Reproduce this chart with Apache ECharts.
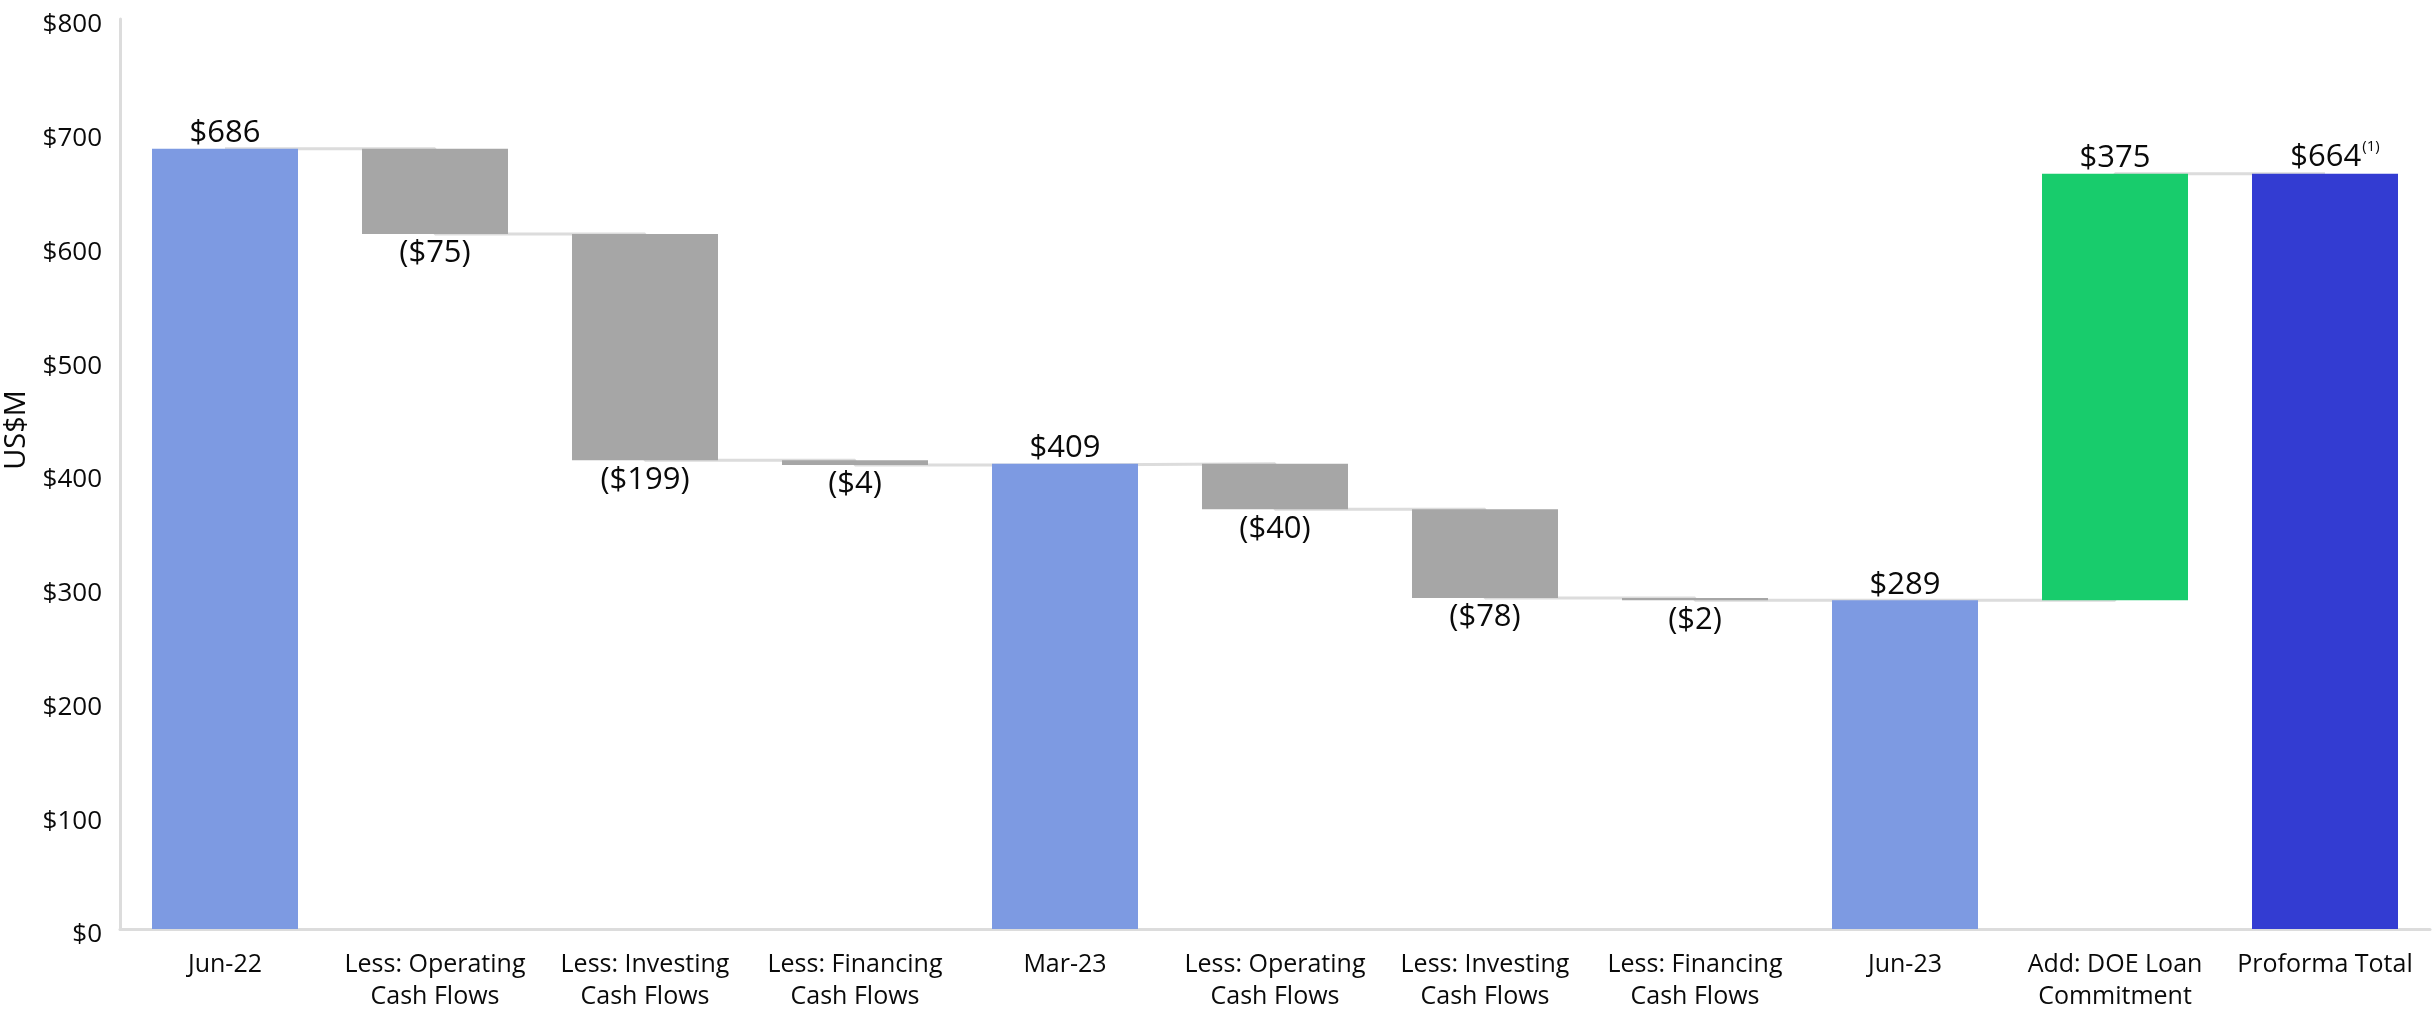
<!DOCTYPE html>
<html>
<head>
<meta charset="utf-8">
<script src="https://cdn.jsdelivr.net/npm/echarts@6/dist/echarts.min.js"></script>
<style>html,body{margin:0;padding:0;background:#fff;}#c{width:2432px;height:1013px;}</style>
</head>
<body>
<div id="c"></div>
<script>
const categories = ['Jun-22', 'Less: Operating\nCash Flows', 'Less: Investing\nCash Flows', 'Less: Financing\nCash Flows', 'Mar-23', 'Less: Operating\nCash Flows', 'Less: Investing\nCash Flows', 'Less: Financing\nCash Flows', 'Jun-23', 'Add: DOE Loan\nCommitment', 'Proforma Total'];
const stepValues = [686, -75, -199, -4, 409, -40, -78, -2, 289, 375, 664];
const stepKinds = ['total', 'decrease', 'decrease', 'decrease', 'total', 'decrease', 'decrease', 'decrease', 'total', 'increase', 'grand'];
const yTicks = [0, 100, 200, 300, 400, 500, 600, 700, 800];

const FONT = 'Open Sans';
const colors = {total: '#7d9ae2', decrease: '#a6a6a6', increase: '#18cc6c', grand: '#333cd2'};

const baseData = [], valueData = [], levels = [];
let level = 0;
stepValues.forEach((v, i) => {
  const kind = stepKinds[i];
  let base, h;
  if (kind === 'total' || kind === 'grand') { base = 0; h = v; level = v; }
  else if (kind === 'decrease') { base = level + v; h = -v; level = level + v; }
  else { base = level; h = v; level = level + v; }
  baseData.push(base);
  levels.push(level);
  let label;
  if (kind === 'decrease') {
    label = {show: true, position: 'bottom', distance: 4, formatter: '($' + (-v) + ')', fontSize: 31, color: '#0a0a0a', fontFamily: FONT};
  } else if (kind === 'grand') {
    label = {show: true, position: 'top', distance: 0, offset: [10, 0], formatter: '{a|$' + v + '}{s|(1)}', color: '#0a0a0a', fontFamily: FONT,
      rich: {a: {fontSize: 31, lineHeight: 34, color: '#0a0a0a', fontFamily: FONT}, s: {fontSize: 15, lineHeight: 15, verticalAlign: 'top', color: '#0a0a0a', fontFamily: FONT, padding: [0, 0, 14, 1]}}};
  } else {
    label = {show: true, position: 'top', distance: 0, formatter: '$' + v, fontSize: 31, color: '#0a0a0a', fontFamily: FONT};
  }
  valueData.push({value: h, itemStyle: {color: colors[kind]}, label: label});
});

const chart = echarts.init(document.getElementById('c'));
chart.setOption({
  animation: false,
  backgroundColor: '#fff',
  grid: {left: 120, right: 2, top: 15, bottom: 82, containLabel: false},
  xAxis: {
    type: 'category', data: categories,
    axisLine: {lineStyle: {color: '#dcdcdc', width: 3}},
    axisTick: {show: false},
    axisLabel: {interval: 0, fontSize: 25, lineHeight: 32, color: '#0a0a0a', margin: 20, fontFamily: FONT}
  },
  yAxis: {
    type: 'value', min: yTicks[0], max: yTicks[yTicks.length - 1], interval: yTicks[1] - yTicks[0],
    axisLine: {show: true, lineStyle: {color: '#dcdcdc', width: 3}},
    axisTick: {show: false},
    splitLine: {show: false},
    axisLabel: {formatter: v => '{t|$' + v + '}', margin: 18,
      rich: {t: {fontSize: 26, color: '#0a0a0a', fontFamily: FONT, lineHeight: 30, padding: [12, 0, 0, 0]}}}
  },
  graphic: [{
    type: 'text', x: 17, y: 430, rotation: Math.PI / 2,
    style: {text: 'US$M', font: '29px "Open Sans"', fill: '#0a0a0a', textAlign: 'center', textVerticalAlign: 'middle'}
  }],
  series: [
    {type: 'line', data: levels, step: 'end', symbol: 'none', z: 1, silent: true,
     lineStyle: {color: '#dcdcdc', width: 3}},
    {type: 'bar', stack: 'w', data: baseData, barWidth: 146, silent: true, z: 2,
     itemStyle: {color: 'rgba(0,0,0,0)'}},
    {type: 'bar', stack: 'w', data: valueData, barWidth: 146, z: 2}
  ]
});
</script>
</body>
</html>
